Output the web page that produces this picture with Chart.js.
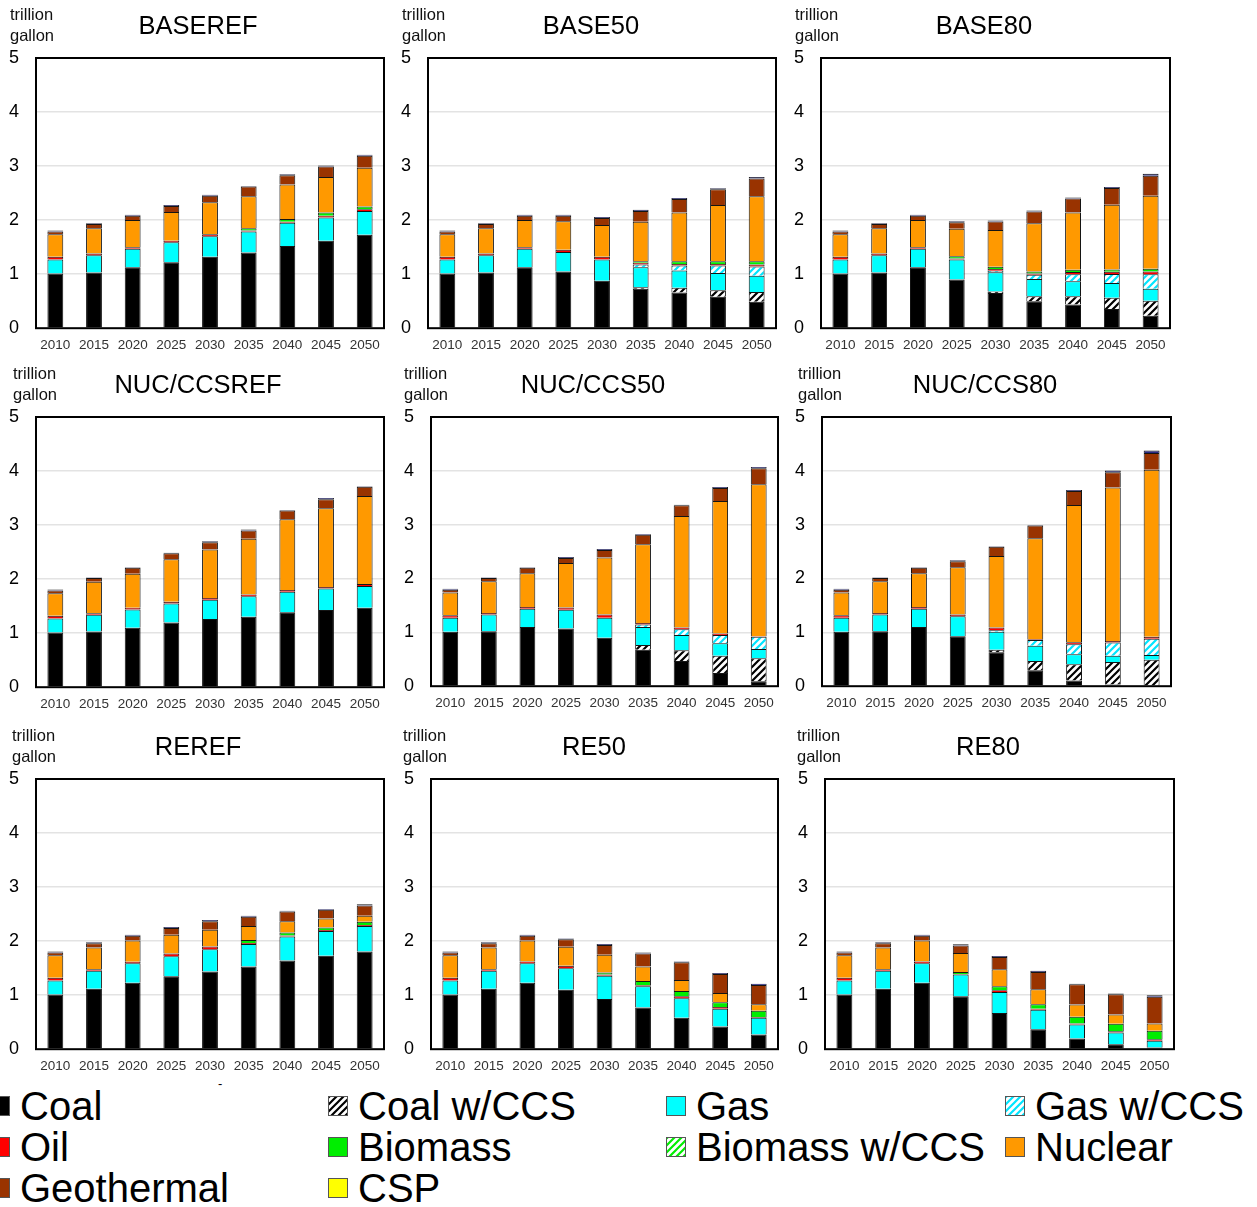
<!DOCTYPE html>
<html>
<head>
<meta charset="utf-8">
<script src="https://cdn.jsdelivr.net/npm/chart.js@4.4.1/dist/chart.umd.min.js"></script>
<style>
  body { margin:0; width:1257px; height:1207px; background:#fff; position:relative; overflow:hidden;
         font-family:"Liberation Sans", Arial, sans-serif; }
  canvas { position:absolute; }
  .key { position:absolute; height:40px; display:flex; align-items:center; font-size:40px; white-space:nowrap; color:#000; }
  .key .box { width:20px; height:20px; box-sizing:border-box; border:1.5px solid #555; margin-right:10px; flex:none; }
  .dash { position:absolute; left:218px; top:1076px; font-size:13px; }
</style>
</head>
<body>
<div class="dash">-</div>
<script>
const years = ["2010","2015","2020","2025","2030","2035","2040","2045","2050"];
const zeros = [0,0,0,0,0,0,0,0,0];

/* BASEREF */
const baserefCoal    = [1.01, 1.03, 1.13, 1.22, 1.32, 1.40, 1.52, 1.62, 1.73];
const baserefGas     = [0.26, 0.32, 0.34, 0.37, 0.38, 0.39, 0.43, 0.43, 0.44];
const baserefOil     = [0.05, 0.03, 0.03, 0.03, 0.04, 0.02, 0.02, 0.03, 0.03];
const baserefBiomass = [0, 0, 0, 0, 0, 0.04, 0.05, 0.06, 0.05];
const baserefNuclear = [0.42, 0.47, 0.50, 0.53, 0.59, 0.59, 0.64, 0.66, 0.72];
const baserefGeo     = [0.05, 0.08, 0.08, 0.11, 0.12, 0.18, 0.17, 0.19, 0.22];
const baserefOther   = [0.02, 0.01, 0.02, 0.02, 0.02, 0.01, 0.02, 0.02, 0.02];

/* BASE50 */
const base50Coal    = [1.01, 1.03, 1.13, 1.05, 0.88, 0.73, 0.66, 0.58, 0.49];
const base50CoalCcs = [0, 0, 0, 0, 0, 0.03, 0.09, 0.12, 0.18];
const base50Gas     = [0.26, 0.32, 0.34, 0.36, 0.39, 0.37, 0.32, 0.32, 0.30];
const base50GasCcs  = [0, 0, 0, 0, 0, 0.05, 0.09, 0.14, 0.17];
const base50Oil     = [0.05, 0.03, 0.03, 0.04, 0.05, 0.03, 0.03, 0.03, 0.04];
const base50Biomass = [0, 0, 0, 0, 0, 0.03, 0.05, 0.05, 0.06];
const base50Nuclear = [0.42, 0.47, 0.50, 0.53, 0.59, 0.73, 0.90, 1.04, 1.20];
const base50Geo     = [0.05, 0.08, 0.08, 0.10, 0.13, 0.20, 0.25, 0.29, 0.33];
const base50Other   = [0.02, 0.01, 0.02, 0.02, 0.02, 0.02, 0.02, 0.02, 0.03];

/* BASE80 */
const base80Coal    = [1.01, 1.03, 1.13, 0.90, 0.65, 0.50, 0.44, 0.355, 0.23];
const base80CoalCcs = [0, 0, 0, 0, 0.03, 0.09, 0.15, 0.21, 0.28];
const base80Gas     = [0.26, 0.32, 0.34, 0.37, 0.355, 0.32, 0.28, 0.27, 0.22];
const base80GasCcs  = [0, 0, 0, 0, 0.03, 0.08, 0.13, 0.17, 0.27];
const base80Oil     = [0.05, 0.03, 0.03, 0.02, 0.03, 0.02, 0.04, 0.04, 0.05];
const base80Biomass = [0, 0, 0, 0.04, 0.04, 0.04, 0.04, 0.04, 0.05];
const base80Nuclear = [0.42, 0.47, 0.50, 0.51, 0.68, 0.89, 1.06, 1.20, 1.35];
const base80Geo     = [0.05, 0.08, 0.08, 0.12, 0.16, 0.22, 0.26, 0.31, 0.37];
const base80Other   = [0.02, 0.01, 0.02, 0.02, 0.02, 0.02, 0.02, 0.02, 0.04];

/* NUC/CCSREF */
const nucrefCoal    = [1.01, 1.03, 1.10, 1.195, 1.26, 1.305, 1.385, 1.43, 1.47];
const nucrefGas     = [0.26, 0.31, 0.34, 0.355, 0.36, 0.38, 0.38, 0.395, 0.405];
const nucrefOil     = [0.05, 0.03, 0.03, 0.03, 0.03, 0.03, 0.035, 0.03, 0.035];
const nucrefNuclear = [0.42, 0.58, 0.63, 0.79, 0.90, 1.03, 1.31, 1.455, 1.63];
const nucrefGeo     = [0.05, 0.07, 0.11, 0.11, 0.13, 0.155, 0.16, 0.17, 0.17];
const nucrefOther   = [0.02, 0.01, 0.01, 0.01, 0.02, 0.02, 0.01, 0.02, 0.01];

/* NUC/CCS50 */
const nuc50Coal    = [1.01, 1.02, 1.10, 1.07, 0.90, 0.675, 0.47, 0.245, 0.09];
const nuc50CoalCcs = [0, 0, 0, 0, 0, 0.09, 0.20, 0.32, 0.43];
const nuc50Gas     = [0.26, 0.31, 0.34, 0.35, 0.37, 0.335, 0.28, 0.235, 0.17];
const nuc50GasCcs  = [0, 0, 0, 0, 0, 0.045, 0.11, 0.15, 0.23];
const nuc50Oil     = [0.05, 0.03, 0.03, 0.04, 0.06, 0.03, 0.03, 0.03, 0.01];
const nuc50Nuclear = [0.42, 0.59, 0.63, 0.83, 1.06, 1.46, 2.07, 2.46, 2.82];
const nuc50Geo     = [0.05, 0.06, 0.10, 0.09, 0.14, 0.18, 0.20, 0.24, 0.30];
const nuc50Other   = [0.02, 0.01, 0.01, 0.02, 0.02, 0.01, 0.01, 0.02, 0.02];

/* NUC/CCS80 */
const nuc80Coal    = [1.01, 1.02, 1.10, 0.93, 0.63, 0.295, 0.105, 0.03, 0];
const nuc80CoalCcs = [0, 0, 0, 0, 0.045, 0.175, 0.305, 0.42, 0.49];
const nuc80Gas     = [0.26, 0.31, 0.34, 0.37, 0.335, 0.28, 0.185, 0.115, 0.09];
const nuc80GasCcs  = [0, 0, 0, 0, 0.03, 0.11, 0.185, 0.245, 0.30];
const nuc80Oil     = [0.05, 0.03, 0.03, 0.03, 0.05, 0.01, 0.035, 0.03, 0.04];
const nuc80Nuclear = [0.42, 0.59, 0.63, 0.88, 1.33, 1.88, 2.55, 2.85, 3.10];
const nuc80Geo     = [0.05, 0.06, 0.10, 0.11, 0.17, 0.235, 0.26, 0.285, 0.31];
const nuc80Other   = [0.02, 0.01, 0.01, 0.02, 0.01, 0.01, 0.02, 0.03, 0.05];

/* REREF */
const rerefCoal    = [1.01, 1.12, 1.23, 1.35, 1.44, 1.53, 1.64, 1.73, 1.81];
const rerefGas     = [0.26, 0.33, 0.36, 0.37, 0.41, 0.415, 0.445, 0.455, 0.47];
const rerefOil     = [0.05, 0.03, 0.03, 0.05, 0.05, 0.02, 0.02, 0.02, 0.02];
const rerefBiomass = [0, 0, 0, 0, 0, 0.055, 0.055, 0.045, 0.06];
const rerefNuclear = [0.42, 0.40, 0.39, 0.35, 0.31, 0.26, 0.21, 0.17, 0.11];
const rerefGeo     = [0.05, 0.08, 0.09, 0.125, 0.16, 0.17, 0.18, 0.16, 0.19];
const rerefOther   = [0.02, 0.02, 0.02, 0.015, 0.02, 0.02, 0.01, 0.015, 0.02];

/* RE50 */
const re50Coal    = [1.01, 1.12, 1.23, 1.10, 0.93, 0.77, 0.58, 0.42, 0.27];
const re50Gas     = [0.26, 0.33, 0.36, 0.40, 0.43, 0.395, 0.365, 0.33, 0.31];
const re50Oil     = [0.05, 0.03, 0.035, 0.045, 0.02, 0.02, 0.035, 0.03, 0.015];
const re50Biomass = [0, 0, 0, 0, 0.04, 0.075, 0.095, 0.09, 0.115];
const re50Nuclear = [0.42, 0.40, 0.385, 0.35, 0.33, 0.27, 0.205, 0.17, 0.12];
const re50Geo     = [0.05, 0.08, 0.09, 0.14, 0.18, 0.24, 0.33, 0.35, 0.36];
const re50Other   = [0.02, 0.02, 0.02, 0.015, 0.015, 0.02, 0.015, 0.02, 0.02];

/* RE80 */
const re80Coal    = [1.01, 1.12, 1.23, 0.98, 0.67, 0.37, 0.20, 0.09, 0.03];
const re80Gas     = [0.26, 0.33, 0.36, 0.40, 0.39, 0.36, 0.255, 0.22, 0.125];
const re80Oil     = [0.05, 0.03, 0.035, 0.01, 0.03, 0.02, 0.02, 0.02, 0.03];
const re80Biomass = [0, 0, 0, 0.04, 0.075, 0.08, 0.125, 0.14, 0.155];
const re80Nuclear = [0.42, 0.40, 0.385, 0.35, 0.315, 0.28, 0.225, 0.17, 0.135];
const re80Geo     = [0.05, 0.08, 0.09, 0.14, 0.225, 0.32, 0.375, 0.375, 0.495];
const re80Other   = [0.02, 0.02, 0.02, 0.02, 0.02, 0.02, 0.01, 0.015, 0.03];

/* hatched fills: coloured "/" stripes on white */
function hatchCanvas(color) {
    let c = document.createElement("canvas");
    c.width = 7; c.height = 7;
    let g = c.getContext("2d");
    g.fillStyle = "#fff";
    g.fillRect(0, 0, 7, 7);
    g.strokeStyle = color;
    g.lineWidth = 2.2;
    g.beginPath();
    g.moveTo(-1, 1); g.lineTo(1, -1);
    g.moveTo(0, 7); g.lineTo(7, 0);
    g.moveTo(6, 8); g.lineTo(8, 6);
    g.stroke();
    return c;
}
function hatch(color) {
    return document.createElement("canvas").getContext("2d").createPattern(hatchCanvas(color), "repeat");
}

/* series in stacking order, bottom to top */
const series = [
    { key:"coal",       name:"Coal",          color:"#000000" },
    { key:"coalCcs",    name:"Coal w/CCS",    color:"#000000", hatched:true },
    { key:"gas",        name:"Gas",           color:"#00ffff" },
    { key:"gasCcs",     name:"Gas w/CCS",     color:"#00e5ff", hatched:true },
    { key:"oil",        name:"Oil",           color:"#ff0000" },
    { key:"biomass",    name:"Biomass",       color:"#00ee00" },
    { key:"biomassCcs", name:"Biomass w/CCS", color:"#00ee00", hatched:true },
    { key:"nuclear",    name:"Nuclear",       color:"#ff9900" },
    { key:"geo",        name:"Geothermal",    color:"#993300" },
    { key:"csp",        name:"CSP",           color:"#ffff00" },
    { key:"other",      name:"Other",         color:"#2a2a86", noKey:true }
];

const panels = [
    { title:"BASEREF",    frame:[36, 58, 384, 330],   titleX:198, unitX:10,
      data:{ coal:baserefCoal, gas:baserefGas, oil:baserefOil, biomass:baserefBiomass, nuclear:baserefNuclear, geo:baserefGeo, other:baserefOther } },
    { title:"BASE50",     frame:[428, 58, 776, 330],  titleX:591, unitX:402,
      data:{ coal:base50Coal, coalCcs:base50CoalCcs, gas:base50Gas, gasCcs:base50GasCcs, oil:base50Oil, biomass:base50Biomass, nuclear:base50Nuclear, geo:base50Geo, other:base50Other } },
    { title:"BASE80",     frame:[821, 58, 1170, 330], titleX:984, unitX:795,
      data:{ coal:base80Coal, coalCcs:base80CoalCcs, gas:base80Gas, gasCcs:base80GasCcs, oil:base80Oil, biomass:base80Biomass, nuclear:base80Nuclear, geo:base80Geo, other:base80Other } },
    { title:"NUC/CCSREF", frame:[36, 417, 384, 689],  titleX:198, unitX:13,
      data:{ coal:nucrefCoal, gas:nucrefGas, oil:nucrefOil, nuclear:nucrefNuclear, geo:nucrefGeo, other:nucrefOther } },
    { title:"NUC/CCS50",  frame:[431, 417, 778, 688], titleX:593, unitX:404,
      data:{ coal:nuc50Coal, coalCcs:nuc50CoalCcs, gas:nuc50Gas, gasCcs:nuc50GasCcs, oil:nuc50Oil, nuclear:nuc50Nuclear, geo:nuc50Geo, other:nuc50Other } },
    { title:"NUC/CCS80",  frame:[822, 417, 1171, 688], titleX:985, unitX:798,
      data:{ coal:nuc80Coal, coalCcs:nuc80CoalCcs, gas:nuc80Gas, gasCcs:nuc80GasCcs, oil:nuc80Oil, nuclear:nuc80Nuclear, geo:nuc80Geo, other:nuc80Other } },
    { title:"REREF",      frame:[36, 779, 384, 1051], titleX:198, unitX:12,
      data:{ coal:rerefCoal, gas:rerefGas, oil:rerefOil, biomass:rerefBiomass, nuclear:rerefNuclear, geo:rerefGeo, other:rerefOther } },
    { title:"RE50",       frame:[431, 779, 778, 1051], titleX:594, unitX:403,
      data:{ coal:re50Coal, gas:re50Gas, oil:re50Oil, biomass:re50Biomass, nuclear:re50Nuclear, geo:re50Geo, other:re50Other } },
    { title:"RE80",       frame:[825, 779, 1174, 1051], titleX:988, unitX:797,
      data:{ coal:re80Coal, gas:re80Gas, oil:re80Oil, biomass:re80Biomass, nuclear:re80Nuclear, geo:re80Geo, other:re80Other } }
];

const FONT = '"Liberation Sans", Arial, sans-serif';
Chart.defaults.font.family = FONT;

// black box round the plot area, title and unit text above it
const framePlugin = {
    id: "frame",
    afterDraw(chart, args, opts) {
        let a = chart.chartArea, ctx = chart.ctx;
        ctx.save();
        ctx.strokeStyle = "#000";
        ctx.lineWidth = 2;
        ctx.strokeRect(a.left, a.top, a.right - a.left, a.bottom - a.top);
        ctx.fillStyle = "#000";
        ctx.textAlign = "center";
        ctx.textBaseline = "middle";
        ctx.font = "25.5px " + FONT;
        ctx.fillText(opts.title, opts.titleX, a.top - 31);
        ctx.textAlign = "left";
        ctx.font = "16.5px " + FONT;
        ctx.fillStyle = "#111";
        ctx.fillText("trillion", opts.unitX, a.top - 43);
        ctx.fillText("gallon", opts.unitX, a.top - 22);
        ctx.restore();
    }
};

panels.forEach(p => {
    let [fl, ft, fr, fb] = p.frame;
    let left = fl - 36, top = ft - 58;
    let w = fr + 14 - left, h = fb + 26 - top;

    let cv = document.createElement("canvas");
    cv.width = w; cv.height = h;
    cv.style.left = left + "px";
    cv.style.top = top + "px";
    document.body.appendChild(cv);

    let datasets = series.map(s => ({
        label: s.name,
        data: p.data[s.key] || zeros,
        backgroundColor: s.hatched ? hatch(s.color) : s.color,
        borderColor: "#141414",
        borderWidth: 1,
        categoryPercentage: 1,
        barPercentage: 0.41
    }));

    new Chart(cv, {
        type: "bar",
        data: { labels: years, datasets: datasets },
        options: {
            responsive: false,
            animation: false,
            layout: { padding: { left: 0, right: 14, top: 58, bottom: 0 } },
            plugins: {
                legend: { display: false },
                tooltip: { enabled: false },
                frame: { title: p.title, titleX: p.titleX - left, unitX: p.unitX - left }
            },
            scales: {
                x: {
                    stacked: true,
                    grid: { display: false, drawTicks: false },
                    border: { display: false },
                    ticks: { color: "#333", font: { size: 13.5 }, padding: 8.5, maxRotation: 0, autoSkip: false },
                    afterFit(s) { s.height = 26; }
                },
                y: {
                    stacked: true,
                    min: 0, max: 5,
                    grid: {
                        color: c => (c.tick.value > 0 && c.tick.value < 5) ? "#e3e3e3" : "rgba(0,0,0,0)",
                        lineWidth: 1.5,
                        drawTicks: false
                    },
                    border: { display: false },
                    ticks: { stepSize: 1, color: "#000", font: { size: 18 }, padding: 17 },
                    afterFit(s) { s.width = 36; }
                }
            }
        },
        plugins: [framePlugin]
    });
});

/* LEGEND: four columns, filled row by row */
const keyCols = [-10, 328, 666, 1005];
const keyRows = [1086, 1127, 1168];
series.filter(s => !s.noKey).forEach((s, i) => {
    let item = document.createElement("div");
    item.className = "key";
    item.style.left = keyCols[i % 4] + "px";
    item.style.top = keyRows[Math.floor(i / 4)] + "px";
    let box = document.createElement("span");
    box.className = "box";
    if (s.hatched) box.style.background = "url(" + hatchCanvas(s.color).toDataURL() + ")";
    else box.style.background = s.color;
    item.appendChild(box);
    item.appendChild(document.createTextNode(s.name));
    document.body.appendChild(item);
});
</script>
</body>
</html>
